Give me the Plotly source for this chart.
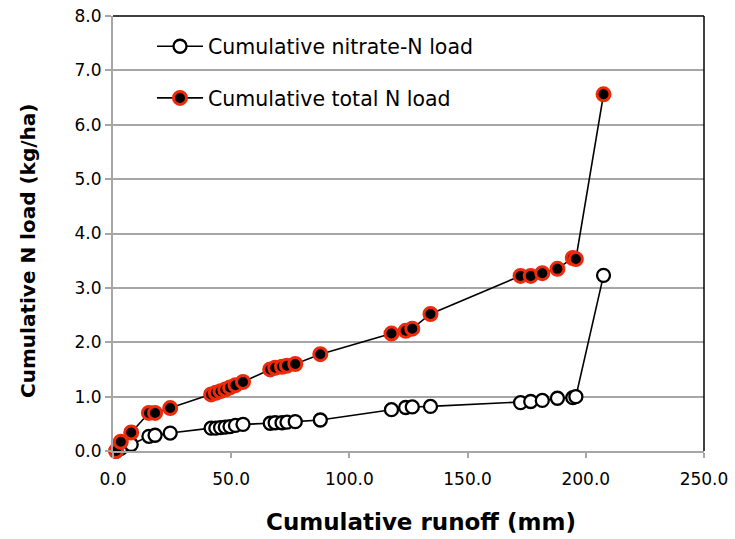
import plotly.graph_objects as go

# Cumulative runoff at each event (mm)
runoff_mm = [1.3, 3.3, 7.7, 15.2, 17.8, 24.2, 41.5, 43.5, 45.5, 47.5, 49.5, 51.8,
             55.0, 66.5, 68.6, 71.5, 73.6, 77.1, 87.7, 117.8, 123.8, 126.6, 134.3,
             172.4, 176.7, 181.6, 188.0, 194.5, 195.8, 207.5]

# Cumulative nitrate-N load (kg/ha)
nitrate_n = [0.0, 0.05, 0.12, 0.27, 0.29, 0.33, 0.42, 0.42, 0.43, 0.44, 0.45, 0.47,
             0.49, 0.51, 0.52, 0.52, 0.53, 0.54, 0.57, 0.76, 0.80, 0.81, 0.82,
             0.89, 0.91, 0.93, 0.97, 0.98, 1.00, 3.23]

# Cumulative total N load (kg/ha)
total_n = [0.0, 0.17, 0.34, 0.70, 0.70, 0.79, 1.04, 1.07, 1.10, 1.13, 1.17, 1.21,
           1.27, 1.50, 1.53, 1.55, 1.57, 1.60, 1.78, 2.16, 2.21, 2.25, 2.52,
           3.22, 3.22, 3.27, 3.35, 3.55, 3.53, 6.56]

x_ticks = [0, 50, 100, 150, 200, 250]
y_ticks = [0, 1, 2, 3, 4, 5, 6, 7, 8]

FONT = "DejaVu Sans"
GRID = "#a6a6a6"

fig = go.Figure()

fig.add_trace(go.Scatter(
    x=runoff_mm, y=nitrate_n, mode="lines+markers",
    name="Cumulative nitrate-N load", legendgroup="a", cliponaxis=False,
    line=dict(color="black", width=1.6),
    marker=dict(symbol="circle", size=13, color="white",
                line=dict(color="black", width=2.3)),
))

fig.add_trace(go.Scatter(
    x=runoff_mm, y=total_n, mode="lines+markers",
    name="Cumulative total N load", legendgroup="b", cliponaxis=False,
    line=dict(color="black", width=1.6),
    marker=dict(symbol="circle", size=13, color="black",
                line=dict(color="#ee2a0b", width=3)),
))

fig.update_layout(
    width=735, height=539,
    margin=dict(l=113, r=31, t=16, b=88, autoexpand=False),
    paper_bgcolor="white", plot_bgcolor="white",
    font=dict(family=FONT, size=17, color="black"),
    showlegend=True,
    legend=dict(
        x=0.066, y=0.976, xanchor="left", yanchor="top",
        bgcolor="rgba(0,0,0,0)", borderwidth=0,
        font=dict(family=FONT, size=20.5, color="black"),
        itemwidth=46, tracegroupgap=22, traceorder="grouped",
    ),
    xaxis=dict(
        range=[0, 250], tickvals=x_ticks,
        ticktext=[f"{v:.1f}" for v in x_ticks],
        showgrid=False, zeroline=False, automargin=False,
        showline=True, linecolor=GRID, linewidth=2,
        ticks="outside", ticklen=5, tickcolor=GRID, tickwidth=1.5,
        ticklabelstandoff=7,
    ),
    yaxis=dict(
        range=[0, 8], tickvals=y_ticks,
        ticktext=[f"{v:.1f}" for v in y_ticks],
        showgrid=True, gridcolor=GRID, gridwidth=1.5,
        zeroline=False, automargin=False,
        showline=True, linecolor=GRID, linewidth=2,
        ticks="outside", ticklen=6, tickcolor=GRID, tickwidth=1.5,
    ),
)

# Axis titles
fig.add_annotation(text="<b>Cumulative runoff (mm)</b>", xref="paper", yref="paper",
                   x=0.521, y=-0.163, xanchor="center", yanchor="middle",
                   showarrow=False, font=dict(family=FONT, size=23, color="black"))
fig.add_annotation(text="<b>Cumulative N load (kg/ha)</b>", xref="paper", yref="paper",
                   x=-0.1438, y=0.46, xanchor="center", yanchor="middle",
                   textangle=-90, showarrow=False,
                   font=dict(family=FONT, size=20, color="black"))

# Dark frame along the top and right edges of the plotting area
fig.add_shape(type="line", xref="paper", yref="paper", x0=0, x1=1, y0=1, y1=1,
              line=dict(color="black", width=1.5))
fig.add_shape(type="line", xref="paper", yref="paper", x0=1, x1=1, y0=0, y1=1,
              line=dict(color="black", width=1.5))

fig.write_html("out.html")
